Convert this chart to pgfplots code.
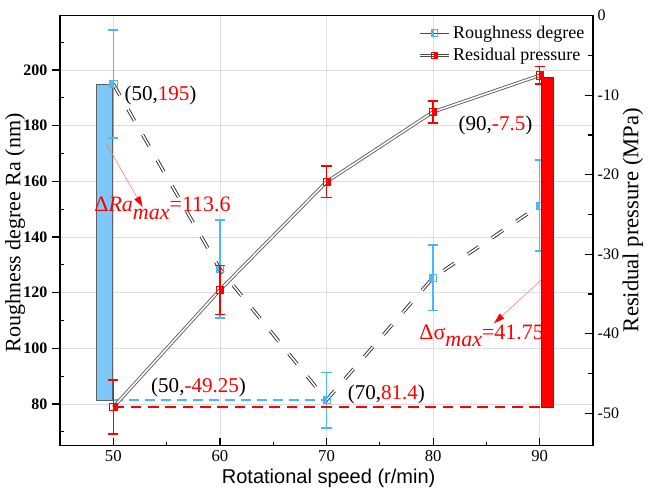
\documentclass[border=0pt]{standalone}
\usepackage{pgfplots}
\pgfplotsset{compat=1.18}
\usepackage{pgfplotstable}
\usepackage{fontspec}
\setmainfont{Liberation Serif}
\setsansfont{Liberation Sans}
\usetikzlibrary{arrows.meta,plotmarks}
\definecolor{ebl}{RGB}{77,182,245}
\definecolor{barb}{RGB}{125,200,250}
\definecolor{rd}{RGB}{255,0,0}
\definecolor{gridc}{RGB}{222,222,222}

\pgfdeclareplotmark{hsqL}{%
  \pgfpathrectangle{\pgfqpoint{-\pgfplotmarksize}{-\pgfplotmarksize}}{\pgfqpoint{\pgfplotmarksize}{2\pgfplotmarksize}}%
  \pgfusepathqfill
  \pgfpathrectangle{\pgfqpoint{-\pgfplotmarksize}{-\pgfplotmarksize}}{\pgfqpoint{2\pgfplotmarksize}{2\pgfplotmarksize}}%
  \pgfusepathqstroke
}
\pgfdeclareplotmark{hsqR}{%
  \pgfpathrectangle{\pgfqpoint{0pt}{-\pgfplotmarksize}}{\pgfqpoint{\pgfplotmarksize}{2\pgfplotmarksize}}%
  \pgfusepathqfill
  \pgfpathrectangle{\pgfqpoint{-\pgfplotmarksize}{-\pgfplotmarksize}}{\pgfqpoint{2\pgfplotmarksize}{2\pgfplotmarksize}}%
  \pgfusepathqstroke
}

\pgfplotstableread{
x y e
50 195 19.4
60 128.5 17.6
70 81.4 10.0
80 125.4 11.8
90 151.3 16.3
}\rough
\pgfplotstableread{
x y e
50 -49.25 3.4
60 -34.5 3.1
70 -20.9 2.0
80 -12.1 1.4
90 -7.5 1.1
}\resid

\begin{document}
\begin{tikzpicture}
\begin{axis}[
 at={(0pt,0pt)}, anchor=south west,
 scale only axis, width=399.75pt, height=322.5pt,
 xmin=45, xmax=95, ymin=65, ymax=219.5,
 xtick={50,60,70,80,90}, minor x tick num=1,
 ytick={80,100,...,200}, minor y tick num=0,
 xtick pos=left, ytick pos=left,
 xtick align=inside, ytick align=outside,
 major tick length=6pt, minor tick length=2.5pt,
 grid=major, major grid style={gridc, line width=0.5pt},
 axis line style={line width=1.1pt},
 tick style={line width=0.9pt, black},
 /pgf/number format/assume math mode=true,
 xticklabel style={font=\rmfamily\fontsize{12.5}{14}\selectfont},
 yticklabel style={font=\rmfamily\fontsize{12}{14}\selectfont\bfseries},
 extra y ticks={70,90,...,210}, extra y tick labels={},
 extra y tick style={ytick align=inside, tick align=inside, major tick length=3pt, grid=none},
 xlabel={Rotational speed (r/min)},
 xlabel style={font=\sffamily\fontsize{15}{18}\selectfont, at={(axis description cs:0.504,-0.075)}, anchor=center},
 ylabel={Roughness degree Ra (nm)},
 ylabel style={font=\rmfamily\fontsize{16.5}{19}\selectfont, at={(axis description cs:-0.0844,0.495)}, anchor=center},
]
\addplot[fill=barb, draw=gray!75!black, line width=0.5pt] coordinates {(48.43,81.4) (48.43,195) (49.88,195) (49.88,81.4)} -- cycle;
\addplot[ebl, line width=1.2pt, dash pattern=on 7.5pt off 4.5pt] coordinates {(50,81.4) (70,81.4)};
\addplot[black!85, double=white, double distance=1.2pt, line width=0.65pt, dash pattern=on 10pt off 12pt] table[x=x,y=y]{\rough};
\addplot[only marks, color=ebl, mark=hsqL, mark size=2.7pt, mark options={draw=ebl, fill=ebl, line width=0.5pt},
  error bars/.cd, y dir=both, y explicit,
  error bar style={ebl, line width=1.1pt},
  error mark options={ebl, rotate=90, mark size=3.8pt, line width=1.1pt}]
  table[x=x, y=y, y error=e]{\rough};

\node[anchor=base west, inner sep=0pt, font=\rmfamily\fontsize{15.8}{18}\selectfont] at (axis cs:51.03,189.2) {(50,\textcolor{rd}{195})};
\node[anchor=base west, inner sep=0pt, font=\rmfamily\fontsize{15.8}{18}\selectfont] at (axis cs:71.97,81.7) {(70,\textcolor{rd}{81.4})};
\node[anchor=base west, inner sep=0pt, font=\rmfamily\fontsize{15.8}{18}\selectfont] at (axis cs:53.53,84.1) {(50,\textcolor{rd}{-49.25})};
\node[anchor=base west, inner sep=0pt, font=\rmfamily\fontsize{15.8}{18}\selectfont] at (axis cs:82.37,178.2) {(90,\textcolor{rd}{-7.5})};
\node[anchor=base west, inner sep=0pt, text=rd, font=\rmfamily\fontsize{16.5}{19}\selectfont] at (axis cs:48.2,149.0) {Δ\textit{Ra}\raisebox{-0.7ex}{\textit{max}}=113.6};
\node[anchor=base west, inner sep=0pt, text=rd, font=\rmfamily\fontsize{16.5}{19}\selectfont] at (axis cs:78.69,103.2) {Δσ\raisebox{-0.7ex}{\textit{max}}=41.75};
\draw[red!55, line width=0.4pt, -{Triangle[length=8pt,width=5pt,fill=rd,color=rd]}] (axis cs:49.32,173.6) -- (axis cs:52.75,150.8);
\draw[red!55, line width=0.4pt, -{Triangle[length=8pt,width=5pt,fill=rd,color=rd]}] (axis cs:90.12,124.5) -- (axis cs:85.72,109.0);
\end{axis}

\begin{axis}[
 at={(0pt,0pt)}, anchor=south west,
 scale only axis, width=399.75pt, height=322.5pt,
 xmin=45, xmax=95, ymin=-54.1, ymax=0,
 axis x line=none, axis y line*=right,
 ytick={-50,-40,...,0}, minor y tick num=1,
 ytick align=inside, major tick length=6pt, minor tick length=3.5pt,
 axis line style={line width=1.1pt},
 tick style={line width=0.9pt, black},
 /pgf/number format/assume math mode=true,
 yticklabel style={font=\rmfamily\fontsize{12}{14}\selectfont},
 ylabel={Residual pressure (MPa)},
 ylabel style={font=\rmfamily\fontsize{17}{19}\selectfont, at={(axis description cs:1.075,0.525)}, anchor=center},
 legend style={at={(0.997,0.99)}, anchor=north east, draw=none, fill=none, font=\rmfamily\fontsize{13.5}{15}\selectfont, row sep=2pt},
 legend cell align=left,
]
\addlegendimage{legend image code/.code={
  \draw[black!70, double=white, double distance=0.8pt, line width=0.6pt] (0pt,0pt) -- (22pt,0pt);
  \begin{scope}[shift={(11pt,0pt)}, color=ebl, line width=0.5pt]\pgfsetplotmarksize{2.4pt}\pgfuseplotmark{hsqL}\end{scope}
}}
\addlegendentry{Roughness degree}
\addlegendimage{legend image code/.code={
  \draw[black!70, double=white, double distance=0.8pt, line width=0.6pt] (0pt,0pt) -- (22pt,0pt);
  \begin{scope}[shift={(11pt,0pt)}, color=rd, line width=0.5pt]\pgfsetplotmarksize{2.4pt}\pgfuseplotmark{hsqR}\end{scope}
}}
\addlegendentry{Residual pressure}
\addplot[rd, line width=1.2pt, dash pattern=on 8pt off 5pt] coordinates {(50,-49.25) (90,-49.25)};
\addplot[gray!70!black, double=white, double distance=1.2pt, line width=0.65pt] table[x=x,y=y]{\resid};
\addplot[only marks, color=rd, mark=hsqR, mark size=2.7pt, mark options={draw=rd, fill=rd, line width=0.5pt},
  error bars/.cd, y dir=both, y explicit,
  error bar style={rd, line width=1.1pt},
  error mark options={rd, rotate=90, mark size=3.8pt, line width=1.1pt}]
  table[x=x, y=y, y error=e]{\resid};
\addplot[fill=rd, draw=red!75!black, line width=0.5pt] coordinates {(90.17,-49.25) (90.17,-7.8) (91.3,-7.8) (91.3,-49.25)} -- cycle;
\end{axis}
\pgfresetboundingbox
\path (-45pt,-36.2pt) rectangle (441pt,334.3pt);
\end{tikzpicture}
\end{document}
